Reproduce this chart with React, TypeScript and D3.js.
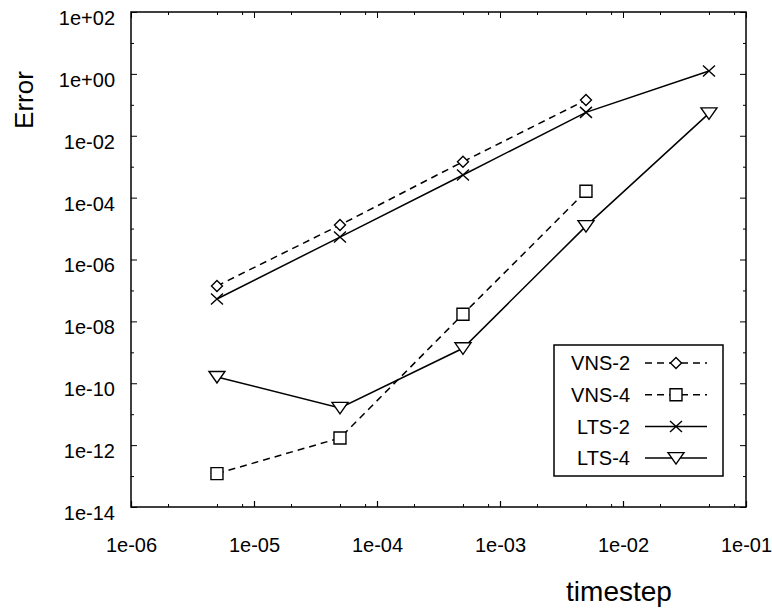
import React, { useEffect, useRef } from "react";
import * as d3 from "d3";

// timestep values and errors
const timesteps = [5e-6, 5e-5, 5e-4, 5e-3, 5e-2];
const vns2 = [1.4e-7, 1.3e-5, 1.45e-3, 0.143];
const vns4 = [1.2e-13, 1.7e-12, 1.7e-8, 1.6e-4];
const lts2 = [5.3e-8, 5.3e-6, 5.4e-4, 0.057, 1.24];
const lts4 = [1.6e-10, 1.6e-11, 1.35e-9, 1.2e-5, 0.053];

const xMajorExp = [-6, -5, -4, -3, -2, -1];
const yMajorExp = [2, 0, -2, -4, -6, -8, -10, -12, -14];
const yMinorExp = [1, -1, -3, -5, -7, -9, -11, -13];
const xMinorMant = [2, 5, 8];

const series = [
  { name: "VNS-2", values: vns2, dashed: true, marker: "diamond" },
  { name: "VNS-4", values: vns4, dashed: true, marker: "square" },
  { name: "LTS-2", values: lts2, dashed: false, marker: "cross" },
  { name: "LTS-4", values: lts4, dashed: false, marker: "triangle" },
];

const fmtExp = (v: number) => {
  const e = Math.round(Math.log10(v));
  return `1e${e < 0 ? "-" : "+"}${String(Math.abs(e)).padStart(2, "0")}`;
};

function drawMarker(g: any, kind: string, cx: number, cy: number) {
  const m = g.append("path")
    .attr("fill", "white")
    .attr("stroke", "black")
    .attr("stroke-width", 1.4);
  if (kind === "diamond") {
    m.attr("d", `M${cx},${cy - 5.5}L${cx + 5.5},${cy}L${cx},${cy + 5.5}L${cx - 5.5},${cy}Z`);
  } else if (kind === "square") {
    m.attr("d", `M${cx - 6},${cy - 6}h12v12h-12Z`);
  } else if (kind === "cross") {
    m.attr("fill", "none")
      .attr("d", `M${cx - 6},${cy - 5.5}L${cx + 6},${cy + 5.5}M${cx - 6},${cy + 5.5}L${cx + 6},${cy - 5.5}`);
  } else {
    m.attr("d", `M${cx - 8},${cy - 5.5}L${cx + 8},${cy - 5.5}L${cx},${cy + 6}Z`);
  }
}

export default function App() {
  const svgRef = useRef<SVGSVGElement>(null);

  useEffect(() => {
    const width = 772;
    const height = 608;
    const left = 131, right = 746, top = 12, bottom = 507;

    const svg = d3.select(svgRef.current)
      .attr("width", width)
      .attr("height", height)
      .style("font-family", "'Liberation Sans', Arial, sans-serif");
    svg.selectAll("*").remove();

    const x = d3.scaleLog().domain([1e-6, 1e-1]).range([left, right]);
    const y = d3.scaleLog().domain([1e-14, 1e2]).range([bottom, top]);

    const xMajor = xMajorExp.map((e) => Math.pow(10, e));
    const xMinor = xMajorExp.slice(0, -1).flatMap((e) => xMinorMant.map((m) => m * Math.pow(10, e)));
    const yMajor = yMajorExp.map((e) => Math.pow(10, e));
    const yMinor = yMinorExp.map((e) => Math.pow(10, e));

    // bottom axis
    const bx = svg.append("g").attr("transform", `translate(0,${bottom})`)
      .call(d3.axisBottom(x).tickValues(xMajor).tickFormat(fmtExp as any)
        .tickSizeInner(-6).tickSizeOuter(0).tickPadding(31));
    bx.select(".domain").remove();
    bx.selectAll("text").attr("font-size", 20).attr("fill", "black");
    bx.selectAll("line").attr("stroke-width", 1.2);

    svg.append("g").attr("transform", `translate(0,${bottom})`)
      .call(d3.axisBottom(x).tickValues(xMinor).tickFormat(() => "").tickSizeInner(-3).tickSizeOuter(0))
      .call((g) => g.select(".domain").remove());

    // top mirrored ticks
    svg.append("g").attr("transform", `translate(0,${top})`)
      .call(d3.axisTop(x).tickValues(xMajor).tickFormat(() => "").tickSizeInner(-6).tickSizeOuter(0))
      .call((g) => g.select(".domain").remove());
    svg.append("g").attr("transform", `translate(0,${top})`)
      .call(d3.axisTop(x).tickValues(xMinor).tickFormat(() => "").tickSizeInner(-3).tickSizeOuter(0))
      .call((g) => g.select(".domain").remove());

    // left axis
    const ly = svg.append("g").attr("transform", `translate(${left},0)`)
      .call(d3.axisLeft(y).tickValues(yMajor).tickFormat(fmtExp as any)
        .tickSizeInner(-6).tickSizeOuter(0).tickPadding(16));
    ly.select(".domain").remove();
    ly.selectAll("text").attr("font-size", 20).attr("fill", "black").attr("dy", "0.62em");

    svg.append("g").attr("transform", `translate(${left},0)`)
      .call(d3.axisLeft(y).tickValues(yMinor).tickFormat(() => "").tickSizeInner(-3).tickSizeOuter(0))
      .call((g) => g.select(".domain").remove());

    // right mirrored ticks
    svg.append("g").attr("transform", `translate(${right},0)`)
      .call(d3.axisRight(y).tickValues(yMajor).tickFormat(() => "").tickSizeInner(-6).tickSizeOuter(0))
      .call((g) => g.select(".domain").remove());
    svg.append("g").attr("transform", `translate(${right},0)`)
      .call(d3.axisRight(y).tickValues(yMinor).tickFormat(() => "").tickSizeInner(-3).tickSizeOuter(0))
      .call((g) => g.select(".domain").remove());

    // frame
    svg.append("rect")
      .attr("x", left).attr("y", top)
      .attr("width", right - left).attr("height", bottom - top)
      .attr("fill", "none").attr("stroke", "black").attr("stroke-width", 1.5);

    // curves
    const line = d3.line<[number, number]>().x((d) => x(d[0])).y((d) => y(d[1]));
    series.forEach((s) => {
      const pts = s.values.map((v, i) => [timesteps[i], v] as [number, number]);
      svg.append("path")
        .attr("d", line(pts))
        .attr("fill", "none")
        .attr("stroke", "black")
        .attr("stroke-width", 1.5)
        .attr("stroke-dasharray", s.dashed ? "7,5" : null);
      const g = svg.append("g");
      pts.forEach((p) => drawMarker(g, s.marker, x(p[0]), y(p[1])));
    });

    // legend
    const lg = svg.append("g");
    lg.append("rect")
      .attr("x", 554).attr("y", 345).attr("width", 169).attr("height", 131)
      .attr("fill", "white").attr("stroke", "black").attr("stroke-width", 1.5);
    series.forEach((s, i) => {
      const cy = 363 + i * 31.7;
      lg.append("text")
        .attr("x", 630).attr("y", cy).attr("dy", "0.36em")
        .attr("text-anchor", "end").attr("font-size", 20)
        .text(s.name);
      lg.append("line")
        .attr("x1", 645).attr("x2", 707).attr("y1", cy).attr("y2", cy)
        .attr("stroke", "black").attr("stroke-width", 1.5)
        .attr("stroke-dasharray", s.dashed ? "7,5" : null);
      drawMarker(lg, s.marker, 676, cy);
    });

    // axis titles
    svg.append("text")
      .attr("transform", `translate(33,100) rotate(-90)`)
      .attr("text-anchor", "middle")
      .attr("font-size", 26)
      .text("Error");

    svg.append("text")
      .attr("x", 619).attr("y", 601)
      .attr("text-anchor", "middle")
      .attr("font-size", 28)
      .text("timestep");
  }, []);

  return (
    <div style={{ position: "absolute", left: 0, top: 0 }}>
      <svg ref={svgRef}></svg>
    </div>
  );
}
